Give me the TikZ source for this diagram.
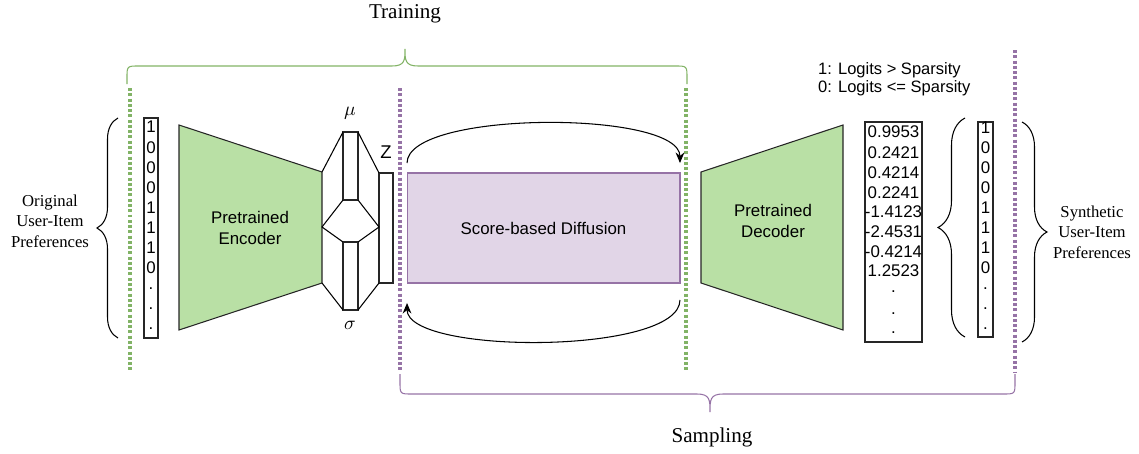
\documentclass[tikz,border=0pt]{standalone}
\usepackage{fontspec}
\setmainfont{Liberation Serif}
\setsansfont{Liberation Sans}
\usetikzlibrary{arrows.meta,decorations.pathreplacing}
\definecolor{grnline}{HTML}{82B366}
\definecolor{grnfill}{HTML}{B9E0A5}
\definecolor{purline}{HTML}{9673A6}
\definecolor{purfill}{HTML}{E1D5E7}
\begin{document}
\begin{tikzpicture}[x=0.02cm,y=-0.02cm,
                        sans/.style={font=\sffamily\fontsize{9.6}{11.5}\selectfont},
                        serif/.style={font=\rmfamily\fontsize{9.5}{11.6}\selectfont, align=center},
                        phase/.style={font=\rmfamily\fontsize{12}{14}\selectfont},
                        cell/.style={sans, inner sep=0pt, text height=1.4ex, text depth=0pt},
                        coder/.style={draw=black!85, fill=grnfill, line width=0.6pt},
                        latent/.style={draw=black!85, fill=white, line width=0.6pt},
                        gdots/.style={grnline, line width=1.8pt, dash pattern=on 1.7pt off 1.3pt},
                        pdots/.style={purline, line width=1.8pt, dash pattern=on 1.7pt off 1.3pt},
                        curly/.style={decorate, decoration={brace, amplitude=#1}, line width=0.6pt},
                        cyclearrow/.style={-{Stealth[length=6pt,width=5pt]}, line width=0.6pt}
                        ]
                        \useasboundingbox (0,0) rectangle (1139,453);
                        %Training / Sampling
                        \node [phase] (train) at (405,14) {Training};
                        \draw [grnline, line width=0.6pt] (127,84) -- (127,78) .. controls (127,66) .. (139,66) -- (392,66)
                              .. controls (405,66) and (405,60) .. (405,49) .. controls (405,60) and (405,66) .. (418,66)
                              -- (675,66) .. controls (687,66) .. (687,78) -- (687,84);
                        \node [phase] (sample) at (712,437) {Sampling};
                        \draw [purline, line width=0.6pt] (400,374) -- (400,382) .. controls (400,394) .. (412,394) -- (697,394)
                              .. controls (710,394) and (710,400) .. (710,412) .. controls (710,400) and (710,394) .. (723,394)
                              -- (1003,394) .. controls (1015,394) .. (1015,382) -- (1015,374);
                        \draw [gdots] (130,88) -- (130,370);
                        \draw [gdots] (686,88) -- (686,370);
                        \draw [pdots] (400,88) -- (400,372);
                        \draw [pdots] (1015,50) -- (1015,372);
                        %Eingabe
                        \node [serif] (orig) at (50,221) {Original\\User-Item\\Preferences};
                        \draw [curly=0.42cm] (118,338) -- (118,118);
                        \draw [latent] (144,118) rectangle (158,338);
                        \foreach \v/\y [count=\i] in {1/127,0/148,0/168,0/188,1/208,1/228,1/248,0/268,./284,./304,./324}
                            \node [cell] (in\i) at (151,\y) {\v};
                        %Encoder
                        \draw [coder] (179,125) -- (322,172) -- (322,283) -- (179,330) -- cycle;
                        \node [sans, align=center] (enc) at (250,228) {Pretrained\\Encoder};
                        \draw [latent] (343,132) rectangle (358,200);
                        \draw [latent] (343,242) rectangle (358,310);
                        \draw [latent] (379,173) rectangle (393,283);
                        \draw [line width=0.6pt] (322,172) -- (343,132) (358,132) -- (379,173)
                                                 (322,283) -- (343,310) (358,310) -- (379,283)
                                                 (343,200) -- (322,227) -- (343,242)
                                                 (358,200) -- (379,227) -- (358,242);
                        \node [font=\fontsize{11}{13}\selectfont] (mu) at (350,113) {$\mu$};
                        \node [font=\fontsize{11}{13}\selectfont] (sigma) at (350,325) {$\sigma$};
                        \node [sans, font=\sffamily\fontsize{10.5}{12}\selectfont] (z) at (386,152) {Z};
                        %Diffusion
                        \node [sans, draw=purline, fill=purfill, line width=0.6pt, outer sep=0pt,
                               minimum width=5.46cm, minimum height=2.2cm] (diff) at (543.5,228) {Score-based Diffusion};
                        \draw [cyclearrow] ([yshift=0.2cm]diff.north west) .. controls +(0,-53) and +(0,-53) .. ([yshift=0.2cm]diff.north east);
                        \draw [cyclearrow] ([yshift=-0.34cm]diff.south east) .. controls +(0,55) and +(0,52) .. ([yshift=-0.4cm]diff.south west);
                        %Decoder
                        \draw [coder] (701,172) -- (843,125) -- (843,330) -- (701,283) -- cycle;
                        \node [sans, align=center] (dec) at (773,221) {Pretrained\\Decoder};
                        %Logits
                        \node [sans, font=\sffamily\fontsize{9.4}{10.4}\selectfont, align=left, anchor=west] (rule) at (812,79)
                              {1: Logits > Sparsity\\0: Logits <= Sparsity};
                        \draw [latent] (865,122) rectangle (922,342);
                        \foreach \v/\y [count=\i] in {0.9953/132,0.2421/153,0.4214/173,0.2241/193,-1.4123/212,-2.4531/232,-0.4214/252,1.2523/271,./287,./309,./328}
                            \node [cell] (logit\i) at (893.5,\y) {\v};
                        %Ausgabe
                        \draw [curly=0.54cm] (965,337) -- (965,118);
                        \draw [latent] (978,122) rectangle (993,337);
                        \foreach \v/\y [count=\i] in {1/128,0/148,0/168,0/188,1/208,1/228,1/248,0/268,./284,./304,./324}
                            \node [cell] (out\i) at (985.5,\y) {\v};
                        \draw [curly=0.5cm] (1022,122) -- (1022,342);
                        \node [serif] (synth) at (1092,232) {Synthetic\\User-Item\\Preferences};
                \end{tikzpicture}
\end{document}
